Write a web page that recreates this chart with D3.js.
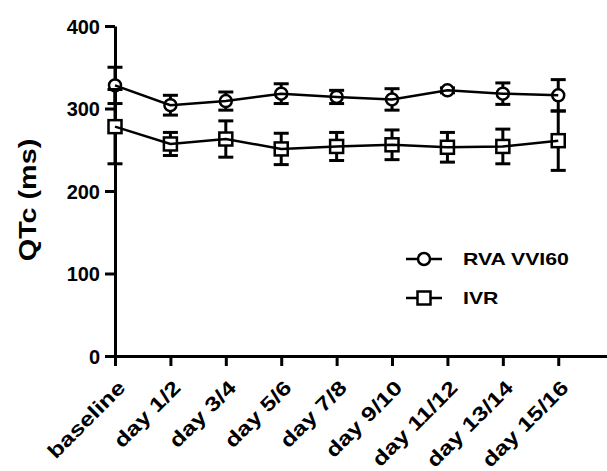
<!DOCTYPE html>
<html>
<head>
<meta charset="utf-8">
<script src="https://cdn.jsdelivr.net/npm/d3@7"></script>
<style>
	body { margin: 0; background: #fff; }
	svg { display: block; }
	text { font-family: Arial, "Liberation Sans", sans-serif; font-weight: bold; fill: #000; }
</style>
</head>
<body>
<div id="chart"></div>
<script>
// Time points on the x axis
var categories = ["baseline", "day 1/2", "day 3/4", "day 5/6", "day 7/8", "day 9/10", "day 11/12", "day 13/14", "day 15/16"];

// QTc mean and error (ms) per group
var rvaMean = [328, 304, 309, 318, 314, 311, 322, 318, 316];
var rvaErr = [22, 12, 11, 12, 8, 13, 3, 13, 19];
var ivrMean = [278, 257, 263, 251, 254, 256, 253, 254, 261];
var ivrErr = [45, 14, 22, 19, 17, 18, 18, 21, 36];

var yTicks = [0, 100, 200, 300, 400];
var seriesNames = ["RVA VVI60", "IVR"];

var width = 607, height = 471;

// The source figure's text is a little wider than plain Arial
var stretch = 1.25;
var widen = function(sel) {
	sel.each(function() {
		var len = this.getComputedTextLength();
		d3.select(this)
			.attr("textLength", len * stretch)
			.attr("lengthAdjust", "spacingAndGlyphs");
	});
};

var svg = d3.select("#chart").append("svg")
	.attr("width", width)
	.attr("height", height);

// x runs a bit past the last time point, up to the right edge
var x = d3.scaleLinear()
	.domain([0, 8.88])
	.range([115, 607]);

var y = d3.scaleLinear()
	.domain([0, 400])
	.range([356, 26]);

// Y axis
var yAxis = svg.append("g")
	.attr("transform", "translate(" + x(0) + ",0)")
	.call(d3.axisLeft(y).tickValues(yTicks).tickSize(10).tickSizeOuter(0).tickPadding(5));
yAxis.select(".domain").attr("stroke-width", 3);
yAxis.selectAll(".tick line").attr("stroke-width", 3);
yAxis.selectAll(".tick text")
	.style("font-size", "20px")
	.attr("dy", ".36em");

// X axis
var xAxis = svg.append("g")
	.attr("transform", "translate(0," + y(0) + ")")
	.call(d3.axisBottom(x).tickValues(d3.range(categories.length)).tickSize(10).tickSizeOuter(0)
		.tickFormat(function(d) { return categories[d]; }));
xAxis.select(".domain").attr("stroke-width", 3);
xAxis.selectAll(".tick line").attr("stroke-width", 3);
xAxis.selectAll(".tick text")
	.style("font-size", "20px")
	.attr("text-anchor", "end")
	.attr("y", 0)
	.attr("dy", 0)
	.attr("transform", "translate(11,33) rotate(-45)")
	.call(widen);

// Y axis title
svg.append("text")
	.attr("transform", "translate(36,200) rotate(-90)")
	.attr("text-anchor", "middle")
	.style("font-size", "23px")
	.text("QTc (ms)")
	.call(widen);

// Draw one series: error bars, markers, then the line
function drawSeries(means, errs, shape) {
	var g = svg.append("g");
	var pts = means.map(function(m, i) { return {i: i, m: m, e: errs[i]}; });

	var bars = g.selectAll(".err")
		.data(pts)
		.enter().append("g")
		.attr("stroke", "#000")
		.attr("stroke-width", 3);
	bars.append("line")
		.attr("x1", function(d) { return x(d.i); })
		.attr("x2", function(d) { return x(d.i); })
		.attr("y1", function(d) { return y(d.m - d.e); })
		.attr("y2", function(d) { return y(d.m + d.e); });
	[-1, 1].forEach(function(s) {
		bars.append("line")
			.attr("x1", function(d) { return x(d.i) - 7.5; })
			.attr("x2", function(d) { return x(d.i) + 7.5; })
			.attr("y1", function(d) { return y(d.m + s * d.e); })
			.attr("y2", function(d) { return y(d.m + s * d.e); });
	});

	var marks = g.selectAll(".mark")
		.data(pts)
		.enter();
	if (shape === "circle") {
		marks.append("circle")
			.attr("cx", function(d) { return x(d.i); })
			.attr("cy", function(d) { return y(d.m); })
			.attr("r", 6)
			.attr("fill", "#fff")
			.attr("stroke", "#000")
			.attr("stroke-width", 2.5);
	} else {
		marks.append("rect")
			.attr("x", function(d) { return x(d.i) - 6.5; })
			.attr("y", function(d) { return y(d.m) - 6.5; })
			.attr("width", 13)
			.attr("height", 13)
			.attr("fill", "#fff")
			.attr("stroke", "#000")
			.attr("stroke-width", 2.5);
	}

	g.append("path")
		.datum(pts)
		.attr("fill", "none")
		.attr("stroke", "#000")
		.attr("stroke-width", 2.5)
		.attr("d", d3.line()
			.x(function(d) { return x(d.i); })
			.y(function(d) { return y(d.m); }));
}

drawSeries(rvaMean, rvaErr, "circle");
drawSeries(ivrMean, ivrErr, "square");

// Legend
var legend = svg.append("g");
var legendY = [259, 298];
seriesNames.forEach(function(name, k) {
	var ly = legendY[k];
	legend.append("line")
		.attr("x1", 406).attr("x2", 442)
		.attr("y1", ly).attr("y2", ly)
		.attr("stroke", "#000")
		.attr("stroke-width", 2.5);
	if (k === 0) {
		legend.append("circle")
			.attr("cx", 424).attr("cy", ly).attr("r", 6)
			.attr("fill", "#fff").attr("stroke", "#000").attr("stroke-width", 2.5);
	} else {
		legend.append("rect")
			.attr("x", 424 - 6.5).attr("y", ly - 6.5)
			.attr("width", 13).attr("height", 13)
			.attr("fill", "#fff").attr("stroke", "#000").attr("stroke-width", 2.5);
	}
	legend.append("text")
		.attr("x", 463)
		.attr("y", ly)
		.attr("dy", ".36em")
		.style("font-size", "17px")
		.text(name)
		.call(widen);
});
</script>
</body>
</html>
